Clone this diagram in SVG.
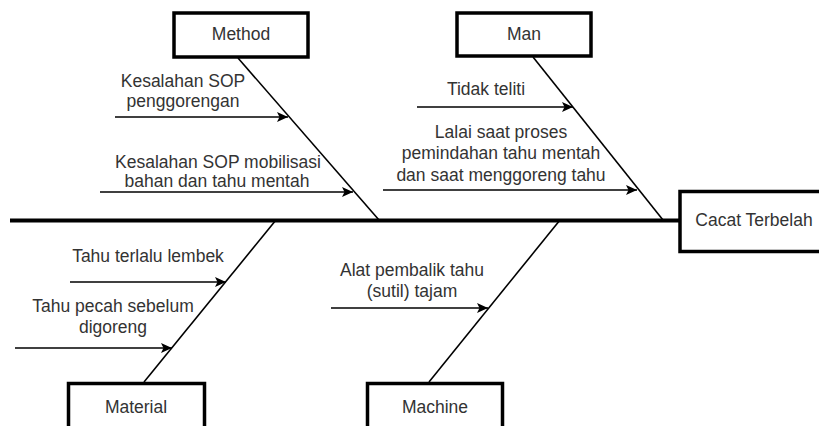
<svg xmlns="http://www.w3.org/2000/svg" width="819" height="426" viewBox="0 0 819 426">
<defs>
<style>
.box{fill:#fff;stroke:#000;stroke-width:3.5}
.t{font-family:"Liberation Sans",Arial,sans-serif;font-size:17.5px;fill:#333;text-anchor:middle}
.bone{stroke:#000;stroke-width:1.6;fill:none}
.arr{stroke:#000;stroke-width:1.6;fill:none;marker-end:url(#ah)}
</style>
<marker id="ah" markerUnits="userSpaceOnUse" markerWidth="12" markerHeight="10" refX="11" refY="5" orient="auto">
<path d="M0,0 L11,5 L0,10 L2.5,5 Z" fill="#000"/>
</marker>
</defs>
<rect width="819" height="426" fill="#fff"/>
<g id="connectors">
<line x1="10" y1="220.5" x2="680" y2="220.5" stroke="#000" stroke-width="4"/>
<line class="bone" x1="238" y1="58" x2="379" y2="220"/>
<line class="bone" x1="533" y1="57" x2="663" y2="220"/>
<line class="bone" x1="276" y1="220" x2="144" y2="382"/>
<line class="bone" x1="560" y1="220" x2="429" y2="382"/>
<line class="arr" x1="115" y1="117" x2="288" y2="117"/>
<line class="arr" x1="100" y1="192" x2="353" y2="192"/>
<line class="arr" x1="417" y1="107" x2="573" y2="107"/>
<line class="arr" x1="383" y1="190" x2="637" y2="190"/>
<line class="arr" x1="70" y1="282" x2="226" y2="282"/>
<line class="arr" x1="15" y1="348" x2="172" y2="348"/>
<line class="arr" x1="331" y1="308" x2="488" y2="308"/>
</g>
<g id="method">
<rect class="box" x="174" y="13" width="134" height="44"/>
<text class="t" x="241" y="40">Method</text>
</g>
<g id="man">
<rect class="box" x="457" y="13" width="134" height="43"/>
<text class="t" x="524" y="40">Man</text>
</g>
<g id="material">
<rect class="box" x="68.5" y="383.5" width="136" height="50"/>
<text class="t" x="136" y="413">Material</text>
</g>
<g id="machine">
<rect class="box" x="367.5" y="383.5" width="135" height="50"/>
<text class="t" x="435" y="413">Machine</text>
</g>
<g id="effect">
<rect class="box" x="680" y="191.5" width="150" height="60"/>
<text class="t" x="754" y="226">Cacat Terbelah</text>
</g>
<g id="causes">
<text class="t" x="183" y="87">Kesalahan SOP</text>
<text class="t" x="183" y="107">penggorengan</text>
<text class="t" x="218" y="168">Kesalahan SOP mobilisasi</text>
<text class="t" x="217" y="187">bahan dan tahu mentah</text>
<text class="t" x="486" y="95">Tidak teliti</text>
<text class="t" x="501" y="138">Lalai saat proses</text>
<text class="t" x="501" y="159">pemindahan tahu mentah</text>
<text class="t" x="501" y="181">dan saat menggoreng tahu</text>
<text class="t" x="148" y="262">Tahu terlalu lembek</text>
<text class="t" x="113" y="312">Tahu pecah sebelum</text>
<text class="t" x="113" y="333">digoreng</text>
<text class="t" x="412" y="276">Alat pembalik tahu</text>
<text class="t" x="412" y="297">(sutil) tajam</text>
</g>
</svg>
